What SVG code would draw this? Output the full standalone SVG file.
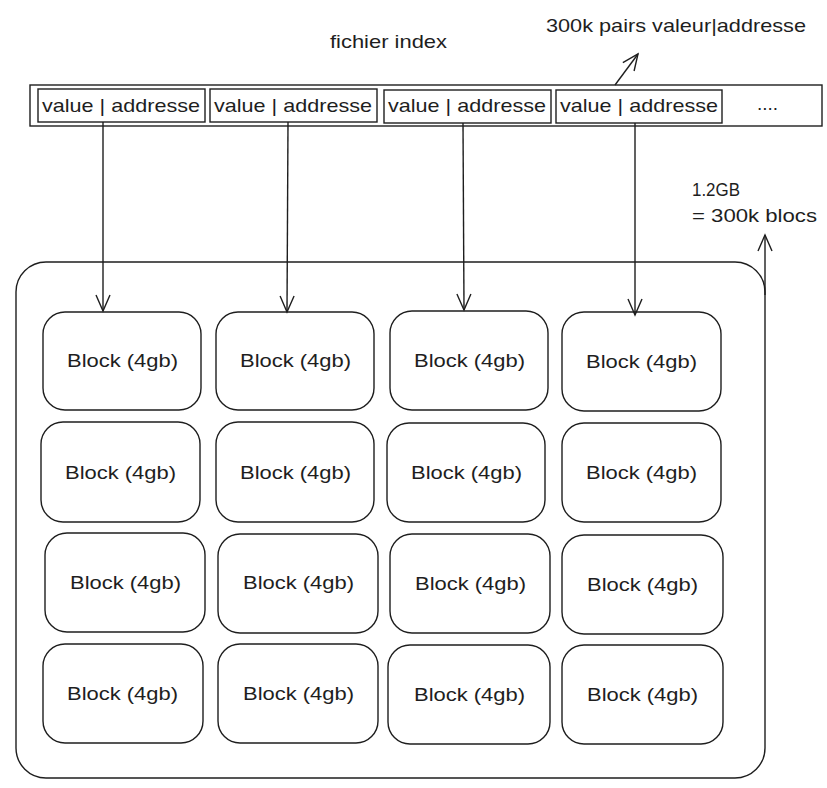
<svg xmlns="http://www.w3.org/2000/svg" width="827" height="788" viewBox="0 0 827 788">
<defs>
<style>
.s{fill:none;stroke:#1e1e1e;stroke-width:1.4}
.b{fill:#fff;stroke:#1e1e1e;stroke-width:1.4}
.t{font-family:"Liberation Sans",sans-serif;fill:#1e1e1e;font-size:19px}
.bt{font-family:"Liberation Sans",sans-serif;fill:#1e1e1e;font-size:19px}
</style>
<marker id="ah" markerUnits="userSpaceOnUse" markerWidth="24" markerHeight="24" refX="18" refY="12" orient="auto">
<path d="M2,5 L18,12 L2,19" fill="none" stroke="#1e1e1e" stroke-width="1.4"/>
</marker>
</defs>
<rect width="827" height="788" fill="#fff"/>

<text class="t" x="330" y="48" textLength="117" lengthAdjust="spacingAndGlyphs">fichier index</text>
<text class="t" x="546" y="32" textLength="260" lengthAdjust="spacingAndGlyphs">300k pairs valeur|addresse</text>
<text class="t" x="692" y="196" textLength="48" lengthAdjust="spacingAndGlyphs">1.2GB</text>
<text class="t" x="692" y="222" textLength="125" lengthAdjust="spacingAndGlyphs">= 300k blocs</text>

<g id="index">
<rect class="b" x="30" y="85" width="792" height="41"/>
<g id="cell1"><rect class="b" x="38" y="89" width="167" height="33"/><text class="t" x="42" y="112" textLength="158" lengthAdjust="spacingAndGlyphs">value | addresse</text></g>
<g id="cell2"><rect class="b" x="210" y="89" width="167" height="33"/><text class="t" x="214" y="112" textLength="158" lengthAdjust="spacingAndGlyphs">value | addresse</text></g>
<g id="cell3"><rect class="b" x="384" y="90" width="167" height="33"/><text class="t" x="388" y="112" textLength="158" lengthAdjust="spacingAndGlyphs">value | addresse</text></g>
<g id="cell4"><rect class="b" x="556" y="90" width="166" height="33"/><text class="t" x="560" y="112" textLength="158" lengthAdjust="spacingAndGlyphs">value | addresse</text></g>
<text class="t" x="757" y="110">....</text>
</g>

<g id="container"><rect class="s" x="16" y="262" width="749" height="516" rx="30"/></g>

<g id="blocks">
<g id="b11"><rect class="b" x="43" y="312" width="158" height="98" rx="22"/><text class="bt" x="67" y="367" textLength="111" lengthAdjust="spacingAndGlyphs">Block (4gb)</text></g>
<g id="b12"><rect class="b" x="216" y="312" width="158" height="98" rx="22"/><text class="bt" x="240" y="367" textLength="111" lengthAdjust="spacingAndGlyphs">Block (4gb)</text></g>
<g id="b13"><rect class="b" x="390" y="311" width="158" height="99" rx="22"/><text class="bt" x="414" y="367" textLength="111" lengthAdjust="spacingAndGlyphs">Block (4gb)</text></g>
<g id="b14"><rect class="b" x="562" y="312" width="159" height="99" rx="22"/><text class="bt" x="586" y="368" textLength="111" lengthAdjust="spacingAndGlyphs">Block (4gb)</text></g>

<g id="b21"><rect class="b" x="41" y="422" width="159" height="100" rx="22"/><text class="bt" x="65" y="479" textLength="111" lengthAdjust="spacingAndGlyphs">Block (4gb)</text></g>
<g id="b22"><rect class="b" x="216" y="422" width="158" height="100" rx="22"/><text class="bt" x="240" y="479" textLength="111" lengthAdjust="spacingAndGlyphs">Block (4gb)</text></g>
<g id="b23"><rect class="b" x="387" y="423" width="158" height="99" rx="22"/><text class="bt" x="411" y="479" textLength="111" lengthAdjust="spacingAndGlyphs">Block (4gb)</text></g>
<g id="b24"><rect class="b" x="562" y="423" width="159" height="99" rx="22"/><text class="bt" x="586" y="479" textLength="111" lengthAdjust="spacingAndGlyphs">Block (4gb)</text></g>

<g id="b31"><rect class="b" x="45" y="533" width="160" height="99" rx="22"/><text class="bt" x="70" y="589" textLength="111" lengthAdjust="spacingAndGlyphs">Block (4gb)</text></g>
<g id="b32"><rect class="b" x="218" y="534" width="160" height="99" rx="22"/><text class="bt" x="243" y="589" textLength="111" lengthAdjust="spacingAndGlyphs">Block (4gb)</text></g>
<g id="b33"><rect class="b" x="390" y="534" width="160" height="99" rx="22"/><text class="bt" x="415" y="590" textLength="111" lengthAdjust="spacingAndGlyphs">Block (4gb)</text></g>
<g id="b34"><rect class="b" x="562" y="535" width="161" height="99" rx="22"/><text class="bt" x="587" y="591" textLength="111" lengthAdjust="spacingAndGlyphs">Block (4gb)</text></g>

<g id="b41"><rect class="b" x="43" y="644" width="160" height="99" rx="22"/><text class="bt" x="67" y="700" textLength="111" lengthAdjust="spacingAndGlyphs">Block (4gb)</text></g>
<g id="b42"><rect class="b" x="218" y="644" width="160" height="99" rx="22"/><text class="bt" x="243" y="700" textLength="111" lengthAdjust="spacingAndGlyphs">Block (4gb)</text></g>
<g id="b43"><rect class="b" x="388" y="645" width="162" height="99" rx="22"/><text class="bt" x="414" y="701" textLength="111" lengthAdjust="spacingAndGlyphs">Block (4gb)</text></g>
<g id="b44"><rect class="b" x="562" y="645" width="161" height="99" rx="22"/><text class="bt" x="587" y="701" textLength="111" lengthAdjust="spacingAndGlyphs">Block (4gb)</text></g>
</g>

<g id="connectors">
<line class="s" x1="103" y1="122" x2="103" y2="311" marker-end="url(#ah)"/>
<line class="s" x1="288" y1="122" x2="287" y2="312" marker-end="url(#ah)"/>
<line class="s" x1="463" y1="123" x2="464" y2="310" marker-end="url(#ah)"/>
<line class="s" x1="635" y1="123" x2="635" y2="315" marker-end="url(#ah)"/>
<line class="s" x1="615" y1="85" x2="638" y2="54" marker-end="url(#ah)"/>
<line class="s" x1="765" y1="295" x2="765" y2="235" marker-end="url(#ah)"/>
</g>
</svg>
